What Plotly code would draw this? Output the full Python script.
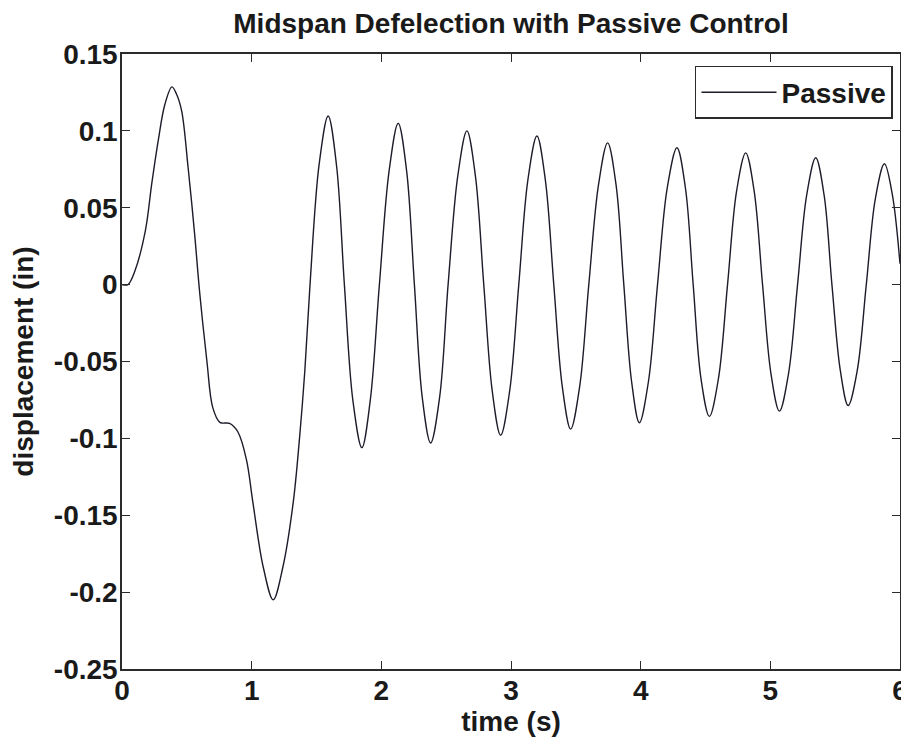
import plotly.graph_objects as go

time_s = [0.0, 0.046, 0.10, 0.18, 0.23, 0.28, 0.33, 0.385, 0.42, 0.46, 0.51, 0.56, 0.60,
          0.655, 0.70, 0.755, 0.83, 0.895, 0.96, 1.01, 1.09, 1.166, 1.24, 1.32, 1.37, 1.41,
          1.45, 1.52, 1.59, 1.655, 1.715, 1.78, 1.85, 1.915, 1.985, 2.06, 2.13, 2.195,
          2.255, 2.315, 2.38, 2.45, 2.515, 2.59, 2.66, 2.725, 2.79, 2.855, 2.92, 2.99,
          3.06, 3.13, 3.20, 3.265, 3.33, 3.395, 3.46, 3.53, 3.60, 3.675, 3.745, 3.81,
          3.87, 3.93, 3.99, 4.06, 4.13, 4.205, 4.28, 4.345, 4.405, 4.465, 4.53, 4.60,
          4.67, 4.74, 4.81, 4.875, 4.94, 5.005, 5.07, 5.14, 5.21, 5.28, 5.35, 5.415,
          5.475, 5.54, 5.60, 5.67, 5.74, 5.81, 5.88, 5.94, 6.0]
displacement = [0.0, 0.0, 0.009, 0.035, 0.066, 0.094, 0.117, 0.1286, 0.124, 0.113, 0.076, 0.033, -0.006,
                -0.05, -0.08, -0.0896, -0.0903, -0.096, -0.114, -0.142, -0.184, -0.205, -0.184, -0.142, -0.099, -0.056,
                0.0, 0.078, 0.1097, 0.077, 0.0, -0.075, -0.106, -0.075, 0.0, 0.074, 0.105, 0.074,
                0.0, -0.073, -0.103, -0.073, 0.0, 0.071, 0.100, 0.071, 0.0, -0.069, -0.098, -0.069,
                0.0, 0.068, 0.0967, 0.068, 0.0, -0.066, -0.094, -0.066, 0.0, 0.065, 0.0922, 0.065,
                0.0, -0.063, -0.0898, -0.063, 0.0, 0.063, 0.089, 0.063, 0.0, -0.061, -0.0857, -0.061,
                0.0, 0.061, 0.0857, 0.061, 0.0, -0.058, -0.0823, -0.058, 0.0, 0.058, 0.0825, 0.058,
                0.0, -0.056, -0.0786, -0.056, 0.0, 0.056, 0.0786, 0.059, 0.0136]

x_ticks = [0, 1, 2, 3, 4, 5, 6]
y_ticks = [0.15, 0.1, 0.05, 0, -0.05, -0.1, -0.15, -0.2, -0.25]
y_tick_labels = ["0.15", "0.1", "0.05", "0", "-0.05", "-0.1", "-0.15", "-0.2", "-0.25"]

FONT = "Liberation Sans, Arial, sans-serif"
AX = "#2b2b2b"
TXT = "#1a1a1a"

fig = go.Figure()
fig.add_trace(go.Scatter(
    x=time_s, y=displacement, mode="lines", name="Passive",
    line=dict(color="#1c1c2a", width=1.4, shape="spline", smoothing=1.0),
))

axis_common = dict(
    showline=True, linecolor=AX, linewidth=1.5, mirror="allticks",
    ticks="inside", ticklen=8, tickwidth=1.3, tickcolor=AX,
    showgrid=False, zeroline=False, automargin=False,
    tickfont=dict(family=FONT, size=28, color=TXT, weight="bold"),
)

# page body adds an 8px offset, so the figure is 8px smaller than the window
fig.update_layout(
    width=901, height=736,
    margin=dict(l=114, r=9, t=46, b=75),
    paper_bgcolor="white", plot_bgcolor="white",
    font=dict(family=FONT, color=TXT),
    title=dict(text="Midspan Defelection with Passive Control",
               font=dict(family=FONT, size=28, color=TXT, weight="bold"),
               x=0.5, xref="paper", xanchor="center",
               y=1 - 15 / 736, yref="container", yanchor="middle"),
    xaxis=dict(range=[0, 6], tickvals=x_ticks, ticktext=[str(v) for v in x_ticks],
               ticklabelstandoff=-4,
               title=dict(text="time (s)", font=dict(family=FONT, size=28, color=TXT, weight="bold"),
                          standoff=6),
               **axis_common),
    yaxis=dict(range=[-0.25, 0.15], tickvals=y_ticks, ticktext=y_tick_labels,
               ticklabelstandoff=-3,
               title=dict(text="displacement (in)", font=dict(family=FONT, size=28, color=TXT, weight="bold"),
                          standoff=14),
               **axis_common),
    showlegend=True,
    legend=dict(x=0.991, y=0.9805, xanchor="right", yanchor="top",
                bgcolor="white", bordercolor=AX, borderwidth=1.5,
                font=dict(family=FONT, size=28, color=TXT, weight="bold"),
                itemwidth=75, tracegroupgap=0),
)

fig.write_html("out.html")
